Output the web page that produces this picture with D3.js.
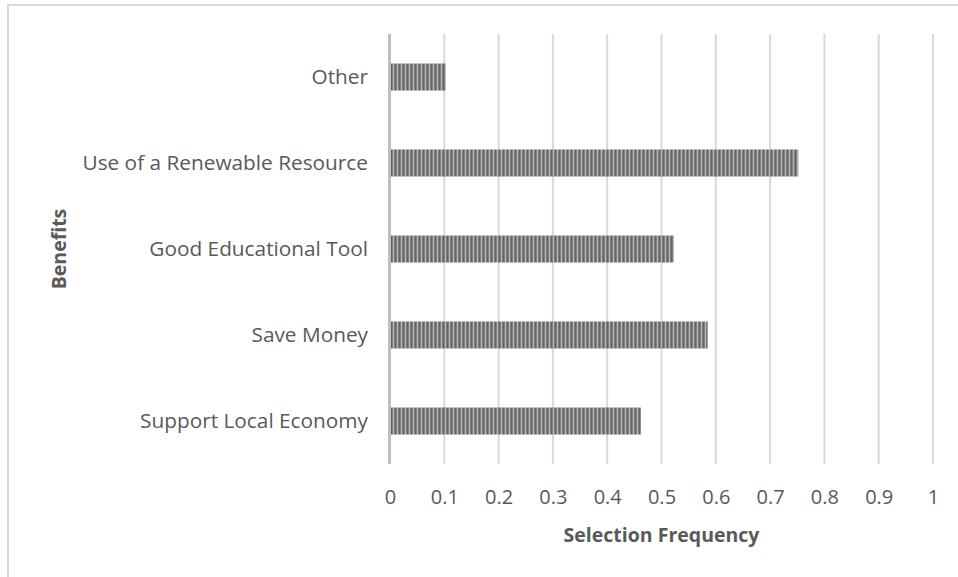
<!DOCTYPE html>
<html><head><meta charset="utf-8">
<script src="https://cdn.jsdelivr.net/npm/d3@7"></script>
<style>body{margin:0;background:#fff}svg{display:block}text{font-family:"Open Sans",sans-serif}</style>
</head><body>
<svg id="c" width="958" height="577"></svg>
<script>
const categories = ["Other", "Use of a Renewable Resource", "Good Educational Tool", "Save Money", "Support Local Economy"];
const values = [0.103, 0.752, 0.523, 0.585, 0.462];
const xTicks = [0, 0.1, 0.2, 0.3, 0.4, 0.5, 0.6, 0.7, 0.8, 0.9, 1];
const xTitle = "Selection Frequency";
const yTitle = "Benefits";

const svg = d3.select("#c");
const defs = svg.append("defs");
const pat = defs.append("pattern").attr("id","stripes").attr("patternUnits","userSpaceOnUse")
  .attr("width",4).attr("height",4);
const cols = ["#808080","#b6b6b6","#7e7e7e","#646464"];
cols.forEach((c,i)=>pat.append("rect").attr("x",i).attr("y",0).attr("width",1).attr("height",4).attr("fill",c));

// outer border
svg.append("rect").attr("x",8).attr("y",5).attr("width",1200).attr("height",1200)
  .attr("fill","none").attr("stroke","#d9d9d9").attr("stroke-width",2);

const x = d3.scaleLinear().domain([0,1]).range([390,933]);
const y = d3.scaleBand().domain(categories).range([34,464]).paddingInner(0.686).paddingOuter(0.343);

// gridlines
svg.append("g").selectAll("line").data(xTicks.slice(1)).join("line")
  .attr("x1",d=>x(d)).attr("x2",d=>x(d)).attr("y1",34).attr("y2",464)
  .attr("stroke","#d9d9d9").attr("stroke-width",2);

// bars
svg.append("g").selectAll("rect").data(categories).join("rect")
  .attr("x",x(0)).attr("y",d=>y(d)).attr("height",y.bandwidth())
  .attr("width",(d,i)=>x(values[i])-x(0)).attr("fill","url(#stripes)");

// axis line
svg.append("line").attr("x1",x(0)-0.5).attr("x2",x(0)-0.5).attr("y1",34).attr("y2",464)
  .attr("stroke","#bfbfbf").attr("stroke-width",3);

// x tick labels
const xa = d3.axisBottom(x).tickValues(xTicks).tickSize(0).tickPadding(0).tickFormat(d=>String(d));
const gx = svg.append("g").attr("transform","translate(0,490)").call(xa);
gx.select(".domain").remove();
gx.selectAll("text").attr("fill","#595959").attr("font-size","20px").attr("font-family","Open Sans, sans-serif");

// y labels
const ya = d3.axisLeft(y).tickSize(0).tickPadding(22);
const gy = svg.append("g").attr("transform",`translate(${x(0)},0)`).call(ya);
gy.select(".domain").remove();
gy.selectAll("text").attr("fill","#595959").attr("font-size","20.8px").attr("font-family","Open Sans, sans-serif");

// titles
svg.append("text").attr("x",(x(0)+x(1))/2).attr("y",542).attr("text-anchor","middle")
  .attr("font-size","19.5px").attr("font-weight","bold").attr("fill","#595959").text(xTitle);
svg.append("text").attr("transform",`translate(66,${(34+464)/2}) rotate(-90)`).attr("text-anchor","middle")
  .attr("font-size","19.5px").attr("font-weight","bold").attr("fill","#595959").text(yTitle);
</script>
</body></html>
